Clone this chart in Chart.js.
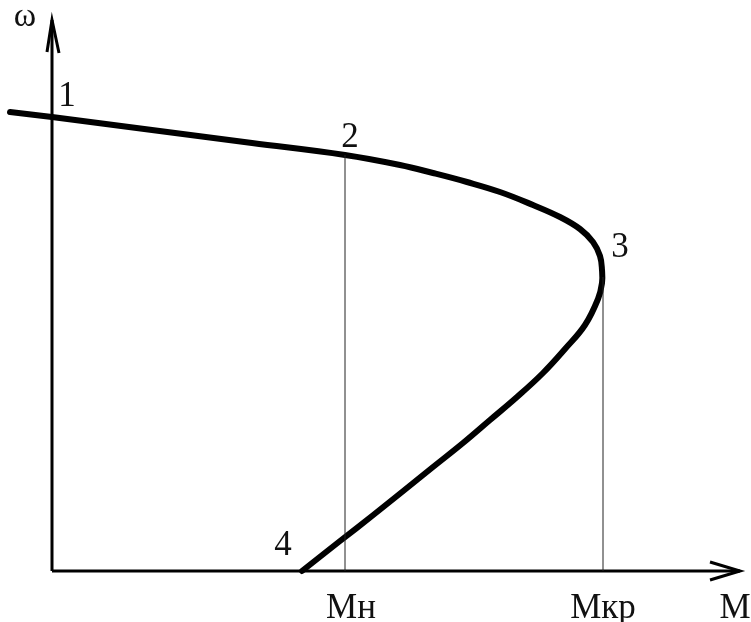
<!DOCTYPE html>
<html>
<head>
<meta charset="utf-8">
<script src="https://cdn.jsdelivr.net/npm/chart.js@4.4.0/dist/chart.umd.min.js"></script>
<style>
    html, body { margin: 0; padding: 0; background: #fff; }
    #wrap { width: 751px; height: 622px; }
</style>
</head>
<body>
<div id="wrap"><canvas id="chart"></canvas></div>
<script>
// Mechanical characteristic: M (torque) vs omega (speed)
var curveM     = [-42, 0, 100, 200, 293, 348, 381, 415, 448, 481, 508, 528, 541, 548, 550, 550, 546, 533, 513, 491, 465, 438, 411, 381, 350, 320, 288, 250];
var curveOmega = [459, 454, 441, 428, 416, 406, 398, 389, 379, 366, 354, 342, 329, 315, 301, 288, 272, 246, 222, 198, 174, 151, 128, 104, 79, 55, 30, 0];

// rated and critical torque
var mNom = 293, omegaNom = 416;
var mCrit = 551, omegaCrit = 294;

// axis extents (arrow tips)
var axisMEnd = 688;
var axisOmegaEnd = 551;

// labels
var pointLabels = ['1', '2', '3', '4'];
var pointLabelAt = [[15, 465], [298, 424], [568, 314], [231, 16]];
var tickLabels = ['Мн', 'Мкр', 'М'];
var tickValues = [mNom + 6, mCrit, 683];
var axisTitle = 'ω';

function zip(xs, ys) {
    return xs.map(function(x, i) { return { x: x, y: ys[i] }; });
}

// arrowheads built from axis ends
var arrowM = [{ x: axisMEnd - 30, y: 9 }, { x: axisMEnd, y: 0 }, { x: axisMEnd - 30, y: -9 }];
var arrowOmega = [{ x: -5, y: axisOmegaEnd - 32 }, { x: 0, y: axisOmegaEnd }, { x: 7, y: axisOmegaEnd - 33 }];

var textPlugin = {
    id: 'textLabels',
    afterDatasetsDraw: function(chart) {
        var ctx = chart.ctx;
        var xs = chart.scales.x, ys = chart.scales.y;
        ctx.save();
        ctx.fillStyle = '#111';
        ctx.textAlign = 'center';
        ctx.textBaseline = 'alphabetic';
        ctx.font = '35px "Liberation Serif", serif';
        pointLabels.forEach(function(t, i) {
            ctx.fillText(t, xs.getPixelForValue(pointLabelAt[i][0]), ys.getPixelForValue(pointLabelAt[i][1]));
        });
        ctx.font = '35px "Liberation Serif", serif';
        tickLabels.forEach(function(t, i) {
            ctx.fillText(t, xs.getPixelForValue(tickValues[i]), ys.getPixelForValue(-47));
        });
        ctx.font = '34px "Liberation Serif", serif';
        ctx.fillText(axisTitle, xs.getPixelForValue(-27), ys.getPixelForValue(545));
        ctx.restore();
    }
};

new Chart(document.getElementById('chart'), {
    type: 'scatter',
    data: {
        datasets: [{
            label: 'guide Mn',
            data: [{ x: mNom, y: 0 }, { x: mNom, y: omegaNom }],
            showLine: true,
            borderColor: '#222',
            borderWidth: 1,
            pointRadius: 0
        }, {
            label: 'guide Mkr',
            data: [{ x: mCrit, y: 0 }, { x: mCrit, y: omegaCrit }],
            showLine: true,
            borderColor: '#222',
            borderWidth: 1,
            pointRadius: 0
        }, {
            label: 'axis M',
            data: [{ x: 0, y: 0 }, { x: axisMEnd, y: 0 }],
            showLine: true,
            borderColor: '#000',
            borderWidth: 3,
            pointRadius: 0
        }, {
            label: 'axis omega',
            data: [{ x: 0, y: 0 }, { x: 0, y: axisOmegaEnd }],
            showLine: true,
            borderColor: '#000',
            borderWidth: 3,
            pointRadius: 0
        }, {
            label: 'arrow M',
            data: arrowM,
            showLine: true,
            borderColor: '#000',
            borderWidth: 3,
            pointRadius: 0
        }, {
            label: 'arrow omega',
            data: arrowOmega,
            showLine: true,
            borderColor: '#000',
            borderWidth: 3,
            pointRadius: 0
        }, {
            label: 'omega(M)',
            data: zip(curveM, curveOmega),
            showLine: true,
            borderColor: '#000',
            borderWidth: 6,
            borderCapStyle: 'round',
            tension: 0.4,
            pointRadius: 0
        }]
    },
    options: {
        responsive: true,
        maintainAspectRatio: false,
        animation: false,
        layout: { padding: 0 },
        scales: {
            x: { type: 'linear', display: false, min: -52, max: 699 },
            y: { type: 'linear', display: false, min: -51, max: 571 }
        },
        plugins: {
            legend: { display: false },
            tooltip: { enabled: false }
        }
    },
    plugins: [textPlugin]
});
</script>
</body>
</html>
